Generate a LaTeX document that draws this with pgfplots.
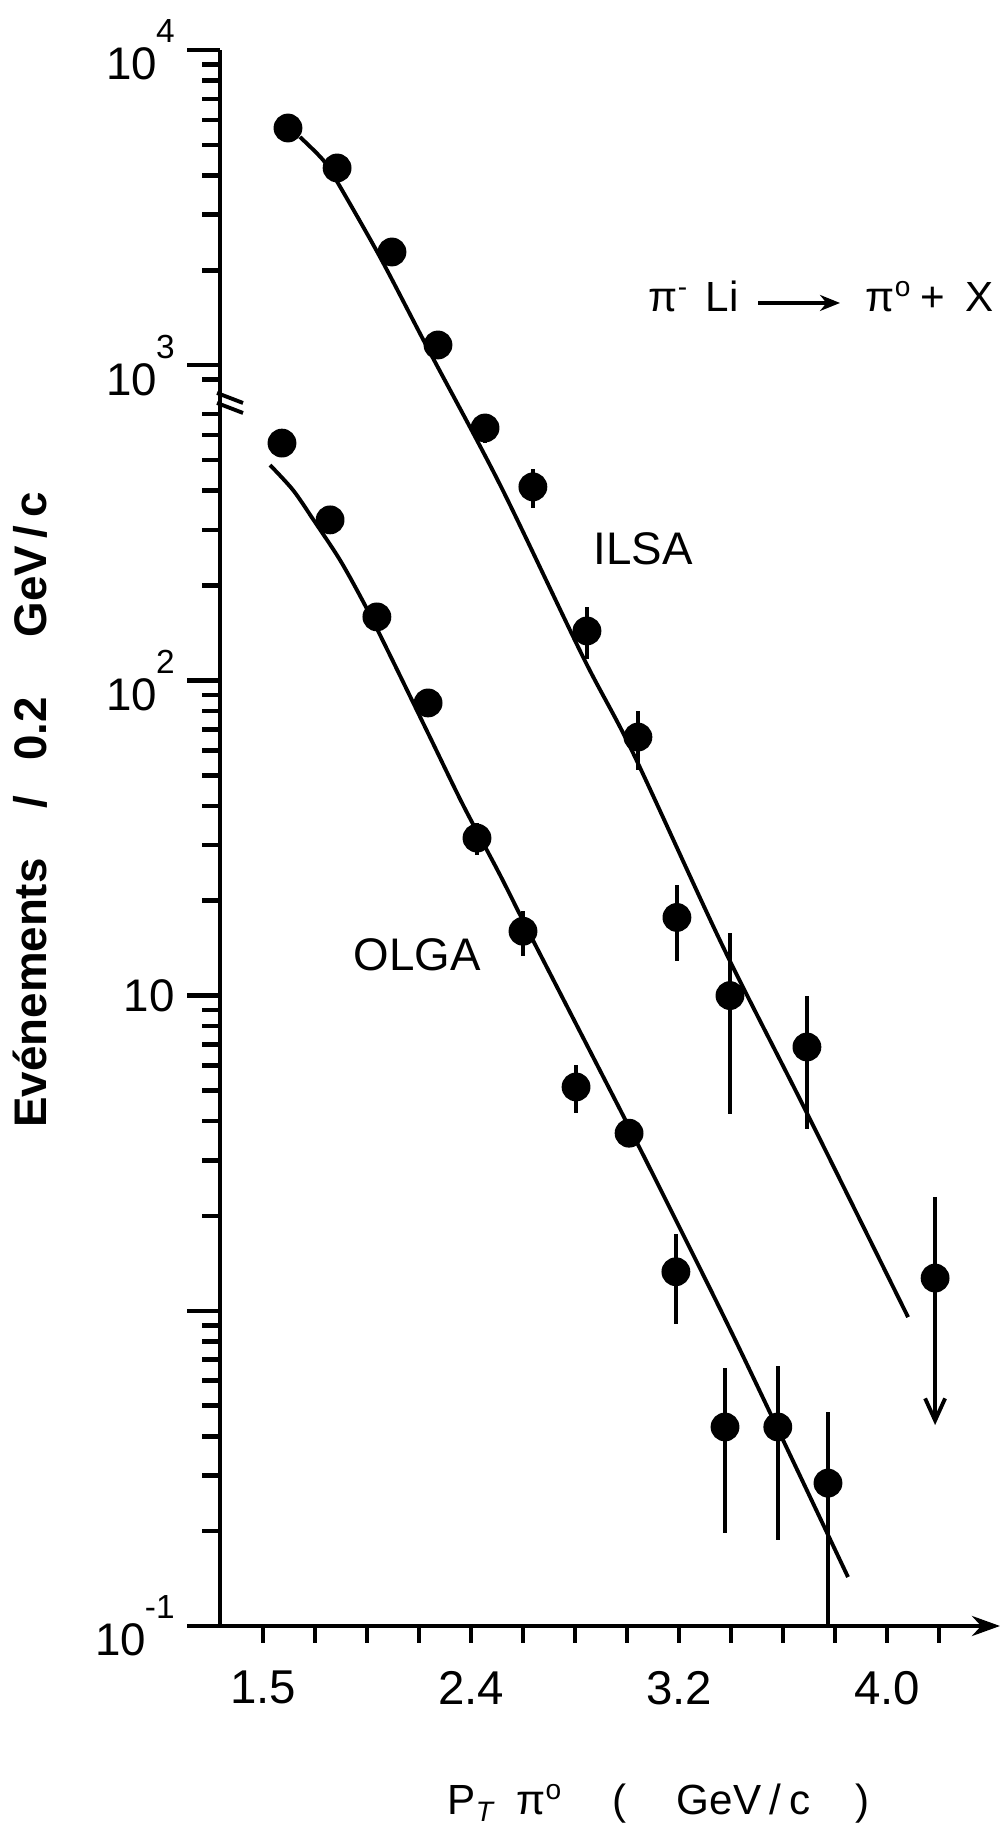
\documentclass[border=0pt]{standalone}
\usepackage{pgfplots}
\pgfplotsset{compat=1.18}
\usepackage{pgfplotstable}
\usepackage{fontspec}
\setmainfont{Liberation Sans}
\usetikzlibrary{arrows.meta}

\newcommand{\sps}[1]{\kern-0.03em\raisebox{0.37cm}{\fontsize{9.5}{9.5}\selectfont #1}}

\pgfplotstableread{
x y e
1.696 5655 0
1.885 4223 0
2.096 2286 0
2.273 1159 0
2.454 632 64
2.638 411 59
2.846 143.5 27
3.042 66.1 14
3.192 17.7 4.8
3.396 10.0 5.8
3.692 6.87 3.1
}\ilsa

\pgfplotstableread{
x y e
1.673 566 0
1.858 323 0
2.038 159 12
2.235 84.8 8
2.423 31.6 3.7
2.600 16.0 2.6
2.804 5.13 0.88
3.008 3.66 0
3.188 1.33 0.42
3.377 0.428 0.23
3.580 0.428 0.24
3.773 0.284 0.193
}\olga

\begin{document}
\begin{tikzpicture}
\useasboundingbox (-2.2,-2.08) rectangle (7.8,16.26);
\begin{axis}[
  at={(0,0)}, anchor=south west,
  scale only axis, width=7.8cm, height=15.76cm,
  xmin=1.4346, xmax=4.4346,
  ymode=log, ymin=0.1, ymax=10000,
  axis x line*=bottom, axis y line*=left,
  x axis line style={black, line width=1.2pt, -{Stealth[length=0.28cm,width=0.2cm]}},
  y axis line style={black, line width=1.2pt},
  tick align=outside,
  major tick length=0.33cm, minor tick length=0.18cm,
  x tick style={black, line width=1.3pt, /pgfplots/major tick length=0.17cm},
  y tick style={black, line width=1.3pt},
  xtick={1.6,1.8,2.0,2.2,2.4,2.6,2.8,3.0,3.2,3.4,3.6,3.8,4.0,4.2},
  xticklabels={1.5,,,,2.4,,,,3.2,,,,4.0,},
  ytick={0.1,1,10,100,1000,10000},
  yticklabels={10\sps{-1},,10,10\sps{2},10\sps{3},10\sps{4}},
  minor ytick={0.2,0.3,0.4,0.5,0.6,0.7,0.8,0.9,2,3,4,5,6,7,8,9,20,30,40,50,60,70,80,90,200,300,400,500,600,700,900,2000,3000,4000,5000,6000,7000,8000,9000},
  xticklabel style={font=\fontsize{13.5}{13.5}\selectfont},
  yticklabel style={font=\fontsize{13}{13}\selectfont},
  clip=true,
]
% fit curves
\addplot[black, line width=1.1pt, smooth, tension=0.5] coordinates {
(1.742,5297) (1.831,4477) (1.888,3785) (2.050,2204) (2.231,1142) (2.512,417) (2.831,118.6) (3.023,58.9) (3.369,14.3) (3.692,4.24) (4.081,0.955)};
\addplot[black, line width=1.1pt, smooth, tension=0.5] coordinates {
(1.627,482) (1.715,402) (1.792,325) (1.896,241) (1.992,173.4) (2.088,120.4) (2.242,66.1) (2.369,40.3) (2.512,24.1) (2.638,15.0) (3.000,3.94) (3.192,1.91) (3.435,0.751) (3.850,0.143)};
% data
\addplot[black, only marks, mark=*, mark size=3.9pt,
  error bars/.cd, y dir=both, y explicit, error mark=none,
  error bar style={line width=1.1pt}]
  table[x=x, y=y, y error=e]{\ilsa};
\addplot[black, only marks, mark=*, mark size=3.9pt,
  error bars/.cd, y dir=both, y explicit, error mark=none,
  error bar style={line width=1.1pt}]
  table[x=x, y=y, y error=e]{\olga};
% upper limit point
\addplot[black, line width=1.1pt, -{Straight Barb[length=0.22cm,width=0.2cm]}] coordinates {(4.185,2.30) (4.185,0.434)};
\addplot[black, only marks, mark=*, mark size=3.9pt] coordinates {(4.185,1.27)};
\end{axis}
% axis break mark
\draw[line width=1.1pt] (-0.03,12.33) -- (0.23,12.23);
\draw[line width=1.1pt] (-0.03,12.23) -- (0.23,12.13);
% labels
\node[font=\fontsize{13}{13}\selectfont] at (4.23,10.77) {ILSA};
\node[font=\fontsize{13}{13}\selectfont] at (1.97,6.71) {OLGA};
\begin{scope}[every node/.style={anchor=base west, inner sep=0pt, font=\fontsize{12}{12}\selectfont}]
\node at (4.28,13.14) {π\textsuperscript{-}};
\node at (4.85,13.14) {Li};
\node at (6.45,13.14) {π\textsuperscript{o}};
\node at (7.00,13.14) {+};
\node at (7.45,13.14) {X};
\end{scope}
\draw[line width=0.9pt, -{Stealth[length=0.2cm,width=0.16cm]}] (5.38,13.23) -- (6.20,13.23);
\node[rotate=90, font=\fontsize{13}{13}\selectfont\bfseries] at (-1.90,8.16)
  {Evénements\hspace{0.5cm}/\hspace{0.35cm}0.2\hspace{0.6cm}GeV\,/\,c};
\node[anchor=base west, font=\fontsize{12}{12}\selectfont, inner sep=0pt] at (2.27,-1.89)
  {P\textsubscript{\textit{T}}\hspace{0.2cm}π\textsuperscript{o}\hspace{0.5cm}(\hspace{0.5cm}GeV\hspace{0.08cm}/\hspace{0.08cm}c\hspace{0.45cm})};
\end{tikzpicture}
\end{document}
